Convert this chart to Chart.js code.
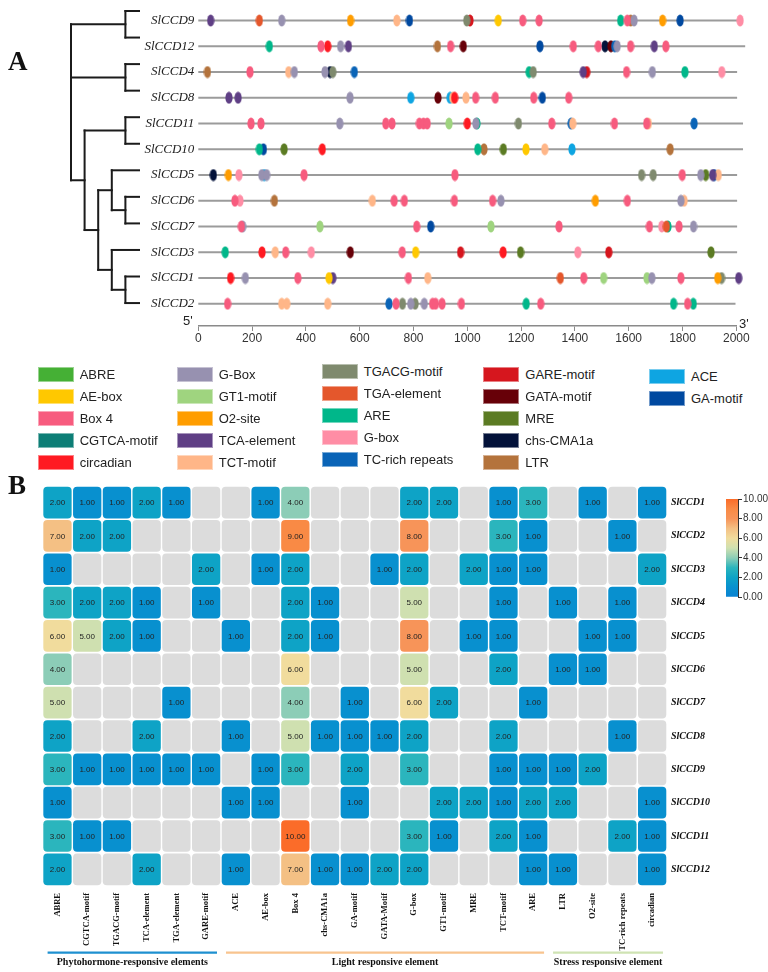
<!DOCTYPE html>
<html>
<head>
<meta charset="utf-8">
<script src="https://cdn.jsdelivr.net/npm/chart.js@4.4.0/dist/chart.umd.min.js"></script>
<style>
  html, body { margin: 0; padding: 0; background: #fff; }
  #page { position: relative; width: 768px; height: 972px; overflow: hidden; font-family: "Liberation Sans", Arial, sans-serif; }
  #page canvas, .abs { position: absolute; }
  .tag { font-family: "Liberation Serif", "DejaVu Serif", serif; font-weight: bold; font-size: 27px; line-height: 1; color: #111; }
  .prime { font-size: 13px; line-height: 1; color: #222; }
  .legend-item { position: absolute; display: flex; align-items: center; height: 15px; font-size: 13px; color: #222; white-space: nowrap; }
  .legend-item .sw { width: 36px; height: 15px; margin-right: 6px; box-sizing: border-box; border: 1px solid rgba(255,255,255,0.45); }
</style>
</head>
<body>
<div id="page">
  <canvas id="sites" width="768" height="360" style="left:0;top:0"></canvas>
  <canvas id="tree" width="200" height="360" style="left:0;top:0"></canvas>
  <div class="abs tag" style="left:8px;top:48px">A</div>
  <div class="abs prime" style="left:183px;top:314px">5'</div>
  <div class="abs prime" style="left:739px;top:317px">3'</div>
  <div id="legend"></div>
  <div class="abs tag" style="left:8px;top:472px">B</div>
  <canvas id="heat" width="768" height="502" style="left:0;top:470px"></canvas>
  <canvas id="cbar" width="50" height="116" style="left:718px;top:490px"></canvas>
</div>
<script>
// ---- panel A data ----
const genes = ["SlCCD9", "SlCCD12", "SlCCD4", "SlCCD8", "SlCCD11", "SlCCD10", "SlCCD5", "SlCCD6", "SlCCD7", "SlCCD3", "SlCCD1", "SlCCD2"];
const geneLengths = [2025, 2033, 2003, 2003, 2025, 2025, 2003, 2003, 2003, 2003, 2003, 1997];
const axisTicks = [0, 200, 400, 600, 800, 1000, 1200, 1400, 1600, 1800, 2000];

// cladogram (same order as genes)
const tree = [["SlCCD9", "SlCCD12"], ["SlCCD4", "SlCCD8"],
    [["SlCCD11", "SlCCD10"], [["SlCCD5", ["SlCCD6", "SlCCD7"]], ["SlCCD3", ["SlCCD1", "SlCCD2"]]]]];

// legend order, 5 per column
const elementNames = ["ABRE", "AE-box", "Box 4", "CGTCA-motif", "circadian",
    "G-Box", "GT1-motif", "O2-site", "TCA-element", "TCT-motif",
    "TGACG-motif", "TGA-element", "ARE", "G-box", "TC-rich repeats",
    "GARE-motif", "GATA-motif", "MRE", "chs-CMA1a", "LTR",
    "ACE", "GA-motif"];
const elementColors = ["#45b035", "#ffc800", "#f75b7e", "#0d7e76", "#ff1a22",
    "#9791b0", "#9fd47f", "#ff9d00", "#5f3f85", "#ffb688",
    "#7f8a6e", "#e4572c", "#00b78a", "#ff8da5", "#0a64b7",
    "#d6161e", "#670008", "#5b7b23", "#03123a", "#b4733c",
    "#0ea5e2", "#0049a0"];

// cis-element positions (bp) per gene
const sitesSlCCD9 = [["TCA-element", 46], ["TGA-element", 227], ["G-Box", 310], ["O2-site", 566], ["TCT-motif", 738], ["GA-motif", 785], ["TGACG-motif", 998], ["GARE-motif", 1010], ["AE-box", 1115], ["Box 4", 1206], ["Box 4", 1267], ["ARE", 1570], ["Box 4", 1595], ["LTR", 1607], ["G-Box", 1620], ["O2-site", 1726], ["GA-motif", 1791], ["G-box", 2014]];
const sitesSlCCD12 = [["ARE", 264], ["Box 4", 456], ["circadian", 481], ["G-Box", 529], ["TCA-element", 558], ["LTR", 889], ["Box 4", 938], ["GATA-motif", 985], ["GA-motif", 1270], ["Box 4", 1394], ["Box 4", 1487], ["chs-CMA1a", 1512], ["GATA-motif", 1534], ["TC-rich repeats", 1548], ["G-Box", 1557], ["Box 4", 1607], ["TCA-element", 1695], ["Box 4", 1738]];
const sitesSlCCD4 = [["LTR", 34], ["Box 4", 192], ["TCT-motif", 336], ["G-Box", 357], ["G-Box", 471], ["chs-CMA1a", 490], ["TGACG-motif", 500], ["TC-rich repeats", 580], ["ARE", 1230], ["TGACG-motif", 1245], ["TCA-element", 1431], ["GARE-motif", 1444], ["Box 4", 1592], ["G-Box", 1688], ["ARE", 1809], ["G-box", 1946]];
const sitesSlCCD8 = [["TCA-element", 114], ["TCA-element", 148], ["G-Box", 564], ["ACE", 790], ["GATA-motif", 891], ["ACE", 936], ["TCT-motif", 946], ["circadian", 953], ["TCT-motif", 995], ["Box 4", 1031], ["Box 4", 1104], ["Box 4", 1247], ["GA-motif", 1279], ["Box 4", 1377]];
const sitesSlCCD11 = [["Box 4", 196], ["Box 4", 233], ["G-Box", 526], ["Box 4", 697], ["Box 4", 720], ["Box 4", 822], ["Box 4", 837], ["Box 4", 851], ["GT1-motif", 932], ["circadian", 1000], ["ARE", 1036], ["G-Box", 1032], ["TGACG-motif", 1190], ["Box 4", 1314], ["TC-rich repeats", 1386], ["TCT-motif", 1392], ["Box 4", 1547], ["Box 4", 1667], ["TCT-motif", 1673], ["TC-rich repeats", 1843]];
const sitesSlCCD10 = [["ARE", 227], ["GA-motif", 242], ["MRE", 319], ["circadian", 461], ["ARE", 1039], ["LTR", 1062], ["MRE", 1134], ["AE-box", 1218], ["TCT-motif", 1288], ["ACE", 1389], ["LTR", 1754]];
const sitesSlCCD5 = [["chs-CMA1a", 56], ["O2-site", 112], ["G-box", 151], ["G-Box", 236], ["ACE", 245], ["G-Box", 254], ["Box 4", 393], ["Box 4", 954], ["TGACG-motif", 1648], ["TGACG-motif", 1691], ["Box 4", 1799], ["G-Box", 1868], ["MRE", 1886], ["TCA-element", 1912], ["GA-motif", 1918], ["TCT-motif", 1933]];
const sitesSlCCD6 = [["Box 4", 136], ["G-box", 155], ["LTR", 283], ["TCT-motif", 647], ["Box 4", 728], ["Box 4", 766], ["Box 4", 952], ["Box 4", 1094], ["G-Box", 1125], ["O2-site", 1476], ["Box 4", 1595], ["G-Box", 1794], ["TCT-motif", 1806]];
const sitesSlCCD7 = [["Box 4", 160], ["G-Box", 165], ["GT1-motif", 452], ["Box 4", 812], ["GA-motif", 864], ["GT1-motif", 1088], ["Box 4", 1341], ["Box 4", 1677], ["G-box", 1723], ["ARE", 1746], ["TGA-element", 1740], ["Box 4", 1787], ["G-Box", 1841]];
const sitesSlCCD3 = [["ARE", 100], ["circadian", 237], ["TCT-motif", 286], ["Box 4", 325], ["G-box", 420], ["GATA-motif", 565], ["Box 4", 758], ["AE-box", 808], ["GARE-motif", 975], ["circadian", 1133], ["MRE", 1198], ["G-box", 1411], ["GARE-motif", 1526], ["MRE", 1906]];
const sitesSlCCD1 = [["circadian", 120], ["G-Box", 175], ["Box 4", 370], ["AE-box", 486], ["TCA-element", 500], ["Box 4", 781], ["TCT-motif", 853], ["TGA-element", 1346], ["Box 4", 1433], ["GT1-motif", 1507], ["GT1-motif", 1668], ["G-Box", 1686], ["Box 4", 1794], ["O2-site", 1931], ["TGACG-motif", 1945], ["TCA-element", 2009]];
const sitesSlCCD2 = [["Box 4", 109], ["TCT-motif", 310], ["TCT-motif", 329], ["TCT-motif", 481], ["TC-rich repeats", 709], ["Box 4", 735], ["TGACG-motif", 759], ["G-Box", 790], ["TGACG-motif", 806], ["G-Box", 840], ["Box 4", 871], ["Box 4", 882], ["Box 4", 906], ["Box 4", 978], ["ARE", 1219], ["Box 4", 1273], ["ARE", 1767], ["Box 4", 1819], ["ARE", 1840]];
const geneSites = [sitesSlCCD9, sitesSlCCD12, sitesSlCCD4, sitesSlCCD8, sitesSlCCD11, sitesSlCCD10, sitesSlCCD5, sitesSlCCD6, sitesSlCCD7, sitesSlCCD3, sitesSlCCD1, sitesSlCCD2];

// ---- panel B data ----
const hmElements = ["ABRE", "CGTCA-motif", "TGACG-motif", "TCA-element", "TGA-element", "GARE-motif", "ACE", "AE-box", "Box 4", "chs-CMA1a", "GA-motif", "GATA-Motif", "G-box", "GT1-motif", "MRE", "TCT-motif", "ARE", "LTR", "O2-site", "TC-rich repeats", "circadian"];
const hmGenes = ["SlCCD1", "SlCCD2", "SlCCD3", "SlCCD4", "SlCCD5", "SlCCD6", "SlCCD7", "SlCCD8", "SlCCD9", "SlCCD10", "SlCCD11", "SlCCD12"];
const countsSlCCD1 = [2, 1, 1, 2, 1, null, null, 1, 4, null, null, null, 2, 2, null, 1, 3, null, 1, null, 1];
const countsSlCCD2 = [7, 2, 2, null, null, null, null, null, 9, null, null, null, 8, null, null, 3, 1, null, null, 1, null];
const countsSlCCD3 = [1, null, null, null, null, 2, null, 1, 2, null, null, 1, 2, null, 2, 1, 1, null, null, null, 2];
const countsSlCCD4 = [3, 2, 2, 1, null, 1, null, null, 2, 1, null, null, 5, null, null, 1, null, 1, null, 1, null];
const countsSlCCD5 = [6, 5, 2, 1, null, null, 1, null, 2, 1, null, null, 8, null, 1, 1, null, null, 1, 1, null];
const countsSlCCD6 = [4, null, null, null, null, null, null, null, 6, null, null, null, 5, null, null, 2, null, 1, 1, null, null];
const countsSlCCD7 = [5, null, null, null, 1, null, null, null, 4, null, 1, null, 6, 2, null, null, 1, null, null, null, null];
const countsSlCCD8 = [2, null, null, 2, null, null, 1, null, 5, 1, 1, 1, 2, null, null, 2, null, null, null, 1, null];
const countsSlCCD9 = [3, 1, 1, 1, 1, 1, null, 1, 3, null, 2, null, 3, null, null, 1, 1, 1, 2, null, null];
const countsSlCCD10 = [1, null, null, null, null, null, 1, 1, null, null, 1, null, null, 2, 2, 1, 2, 2, null, null, 1];
const countsSlCCD11 = [3, 1, 1, null, null, null, null, null, 10, null, null, null, 3, 1, null, 2, 1, null, null, 2, 1];
const countsSlCCD12 = [2, null, null, 2, null, null, 1, null, 7, 1, 1, 2, 2, null, null, null, 1, 1, null, null, 1];
const hmCounts = [countsSlCCD1, countsSlCCD2, countsSlCCD3, countsSlCCD4, countsSlCCD5, countsSlCCD6, countsSlCCD7, countsSlCCD8, countsSlCCD9, countsSlCCD10, countsSlCCD11, countsSlCCD12];

const groupNames = ["Phytohormone-responsive elements", "Light responsive element", "Stress responsive element"];
const groupFrom = ["ABRE", "ACE", "LTR"];
const groupTo = ["GARE-motif", "ARE", "circadian"];
const groupColors = ["#1e90d0", "#f8c48f", "#cfe3b3"];

const colorbarTicks = [0, 2, 4, 6, 8, 10];
// colour for value 0..10
const scaleColors = ["#0a82d2", "#0890cf", "#0ea3c6", "#2bb5bd", "#8ccdb7", "#cfe0b0", "#f1dc9d", "#f4c084", "#f79459", "#f98a45", "#fb6c29"];

Chart.defaults.font.family = '"Liberation Sans", Arial, sans-serif';
Chart.defaults.animation = false;
Chart.defaults.events = [];
Chart.defaults.plugins.legend.display = false;
Chart.defaults.plugins.tooltip.enabled = false;

const serif = '"Liberation Serif", "DejaVu Serif", serif';
const rowMin = -0.339;
const rowMax = 11.864;

// ---- legend (html) ----
const legendCols = [[37.7, 367], [176.7, 367], [321.7, 364], [483.3, 367], [649, 369]];
const legendBox = document.getElementById("legend");
elementNames.forEach((name, i) => {
    const col = legendCols[Math.floor(i / 5)];
    const div = document.createElement("div");
    div.className = "legend-item";
    div.style.left = col[0] + "px";
    div.style.top = (col[1] + (i % 5) * 22) + "px";
    div.innerHTML = `<span class="sw" style="background:${elementColors[i]}"></span><span>${name}</span>`;
    legendBox.appendChild(div);
});

// ---- tree ----
function height(node) {
    return Array.isArray(node) ? 1 + Math.max(...node.map(height)) : 0;
}
const treeDepth = height(tree);
const treeSegments = [];
function layout(node) {
    if (!Array.isArray(node)) return { x: treeDepth, y: genes.indexOf(node) };
    const kids = node.map(layout);
    const x = treeDepth - height(node);
    const y = (kids[0].y + kids[kids.length - 1].y) / 2;
    treeSegments.push([{ x: x, y: kids[0].y }, { x: x, y: kids[kids.length - 1].y }]);
    kids.forEach(k => treeSegments.push([{ x: x, y: k.y }, { x: k.x, y: k.y }]));
    return { x, y };
}
layout(tree);

new Chart(document.getElementById("tree"), {
    type: "scatter",
    data: {
        datasets: treeSegments.map(seg => ({
            data: seg, showLine: true, borderColor: "#1b1b1b", borderWidth: 2,
            pointRadius: 0, borderCapStyle: "square", clip: false
        }))
    },
    options: {
        responsive: false,
        layout: { padding: { left: 71, right: 61, top: 2, bottom: 34 } },
        scales: {
            x: { type: "linear", min: 0, max: treeDepth, display: false },
            y: { type: "linear", reverse: true, min: rowMin, max: rowMax, display: false }
        }
    }
});

// ---- promoter sites ----
function ellipseImage(color) {
    const c = document.createElement("canvas");
    c.width = 8;
    c.height = 13;
    const ctx = c.getContext("2d");
    ctx.fillStyle = color;
    ctx.beginPath();
    ctx.ellipse(4, 6.5, 3.6, 6, 0, 0, Math.PI * 2);
    ctx.fill();
    return c;
}

const backbone = genes.map((g, i) => ({
    data: [{ x: 0, y: i }, { x: geneLengths[i], y: i }],
    showLine: true, borderColor: "#9b9b9b", borderWidth: 2, pointRadius: 0, order: 10, clip: false
}));
const siteSets = elementNames.map((name, e) => {
    const pts = [];
    geneSites.forEach((list, gi) => {
        list.forEach(s => { if (s[0] === name) pts.push({ x: s[1], y: gi }); });
    });
    return { label: name, data: pts, pointStyle: ellipseImage(elementColors[e]), pointRadius: 6, clip: false, order: 0 };
});

new Chart(document.getElementById("sites"), {
    type: "scatter",
    data: { datasets: backbone.concat(siteSets) },
    options: {
        responsive: false,
        layout: { padding: { left: 138.3, right: 31.7, top: 2, bottom: 10 } },
        scales: {
            x: {
                type: "linear", min: axisTicks[0], max: axisTicks[axisTicks.length - 1],
                afterBuildTicks: s => { s.ticks = axisTicks.map(v => ({ value: v })); },
                afterFit: s => { s.height = 24; },
                ticks: { callback: v => String(v), color: "#333", font: { size: 12 }, padding: 0 },
                grid: { drawOnChartArea: false, drawTicks: true, tickLength: 5, color: "#8a8a8a" },
                border: { color: "#8a8a8a", width: 1.5 }
            },
            y: {
                type: "linear", reverse: true, min: rowMin, max: rowMax,
                afterBuildTicks: s => { s.ticks = genes.map((g, i) => ({ value: i })); },
                afterFit: s => { s.width = 60; },
                ticks: { callback: v => genes[v], color: "#222", padding: 4, font: { family: serif, style: "italic", size: 13 } },
                grid: { display: false, drawTicks: false },
                border: { display: false }
            }
        }
    }
});

// ---- heatmap ----
function cellColor(v) {
    return scaleColors[Math.round(v)];
}

const cellText = {
    id: "cellText",
    afterDatasetsDraw(chart) {
        const ctx = chart.ctx;
        ctx.save();
        ctx.font = '8px "Liberation Sans", Arial, sans-serif';
        ctx.fillStyle = "#222";
        ctx.textAlign = "center";
        ctx.textBaseline = "middle";
        chart.data.datasets.forEach((ds, di) => {
            chart.getDatasetMeta(di).data.forEach((bar, j) => {
                const v = ds.counts[j];
                if (v == null) return;
                ctx.fillText(v.toFixed(2), bar.x, (bar.y + bar.base) / 2 + 0.5);
            });
        });
        ctx.restore();
    }
};

const groupBars = {
    id: "groupBars",
    afterDraw(chart) {
        const xs = chart.scales.x;
        const ctx = chart.ctx;
        const pitch = xs.getPixelForValue(1) - xs.getPixelForValue(0);
        ctx.save();
        groupNames.forEach((name, i) => {
            const x0 = xs.getPixelForValue(hmElements.indexOf(groupFrom[i])) - pitch / 2 + 5;
            const x1 = xs.getPixelForValue(hmElements.indexOf(groupTo[i])) + pitch / 2 - 4;
            ctx.strokeStyle = groupColors[i];
            ctx.lineWidth = 2.2;
            ctx.beginPath();
            ctx.moveTo(x0, 482.7);
            ctx.lineTo(x1, 482.7);
            ctx.stroke();
            ctx.fillStyle = "#111";
            ctx.font = "bold 10px " + serif;
            ctx.textAlign = "center";
            ctx.textBaseline = "middle";
            ctx.fillText(name, (x0 + x1) / 2, 492);
        });
        ctx.restore();
    }
};

new Chart(document.getElementById("heat"), {
    type: "bar",
    data: {
        labels: hmElements,
        datasets: hmGenes.map((g, gi) => ({
            label: g,
            data: hmElements.map(() => [gi + 0.025, gi + 0.975]),
            counts: hmCounts[gi],
            backgroundColor: hmCounts[gi].map(v => v == null ? "#dcdcdc" : cellColor(v)),
            borderRadius: 4,
            borderSkipped: false,
            borderWidth: 0,
            barPercentage: 0.952,
            categoryPercentage: 1,
            grouped: false
        }))
    },
    options: {
        responsive: false,
        layout: { padding: { left: 42.6, top: 15.9, right: 0, bottom: 0 } },
        scales: {
            x: {
                afterFit: s => { s.height = 86; },
                ticks: { autoSkip: false, minRotation: 90, maxRotation: 90, padding: 7, color: "#111", font: { family: serif, weight: "bold", size: 8.5 } },
                grid: { display: false, drawTicks: false },
                border: { display: false }
            },
            y: {
                type: "linear", position: "right", reverse: true, min: 0, max: hmGenes.length,
                afterBuildTicks: s => { s.ticks = hmGenes.map((g, i) => ({ value: i + 0.5 })); },
                afterFit: s => { s.width = 101; },
                ticks: { callback: v => hmGenes[Math.floor(v)], color: "#111", padding: 4, font: { family: serif, weight: "bold", style: "italic", size: 10 } },
                grid: { display: false, drawTicks: false },
                border: { display: false }
            }
        }
    },
    plugins: [cellText, groupBars]
});

// ---- colour bar ----
new Chart(document.getElementById("cbar"), {
    type: "bar",
    data: {
        labels: [""],
        datasets: [{
            data: [[colorbarTicks[0], colorbarTicks[colorbarTicks.length - 1]]],
            borderWidth: 0,
            borderSkipped: false,
            barPercentage: 1,
            categoryPercentage: 1,
            backgroundColor: ctx => {
                const area = ctx.chart.chartArea;
                if (!area) return scaleColors[0];
                const g = ctx.chart.ctx.createLinearGradient(0, area.bottom, 0, area.top);
                scaleColors.forEach((c, i) => g.addColorStop(i / (scaleColors.length - 1), c));
                return g;
            }
        }]
    },
    options: {
        responsive: false,
        layout: { padding: { left: 8, right: 0, top: 9, bottom: 9 } },
        scales: {
            x: { display: false },
            y: {
                type: "linear", position: "right",
                min: colorbarTicks[0], max: colorbarTicks[colorbarTicks.length - 1],
                afterBuildTicks: s => { s.ticks = colorbarTicks.map(v => ({ value: v })); },
                afterFit: s => { s.width = 30; },
                ticks: { callback: v => v.toFixed(2), color: "#333", padding: 1, font: { size: 10 } },
                grid: { drawOnChartArea: false, drawTicks: true, tickLength: 4, color: "#333" },
                border: { display: true, color: "#333", width: 1 }
            }
        }
    }
});
</script>
</body>
</html>
